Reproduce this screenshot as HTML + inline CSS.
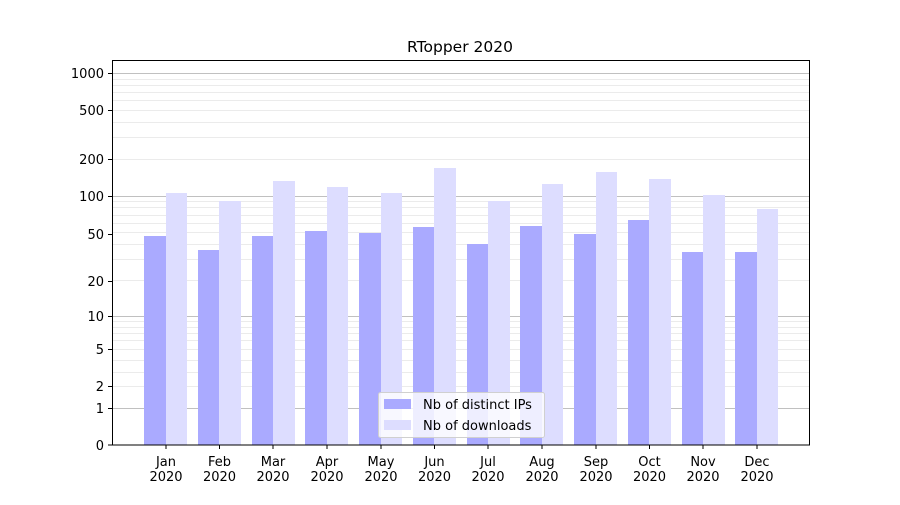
<!DOCTYPE html>
<html><head><meta charset="utf-8"><style>
body{margin:0;background:#fff}
text{font-family:"DejaVu Sans","Liberation Sans",sans-serif;font-size:13px;fill:#000}
</style></head><body>
<svg width="900" height="500" xmlns="http://www.w3.org/2000/svg">
<rect width="900" height="500" fill="#fff"/>
<g stroke="#ebebeb" stroke-width="1">
<line x1="112" x2="810" y1="386.5" y2="386.5"/><line x1="112" x2="810" y1="372.5" y2="372.5"/><line x1="112" x2="810" y1="360.5" y2="360.5"/><line x1="112" x2="810" y1="349.5" y2="349.5"/><line x1="112" x2="810" y1="340.5" y2="340.5"/><line x1="112" x2="810" y1="333.5" y2="333.5"/><line x1="112" x2="810" y1="327.5" y2="327.5"/><line x1="112" x2="810" y1="321.5" y2="321.5"/>
<line x1="112" x2="810" y1="280.5" y2="280.5"/><line x1="112" x2="810" y1="259.5" y2="259.5"/><line x1="112" x2="810" y1="244.5" y2="244.5"/><line x1="112" x2="810" y1="232.5" y2="232.5"/><line x1="112" x2="810" y1="223.5" y2="223.5"/><line x1="112" x2="810" y1="215.5" y2="215.5"/><line x1="112" x2="810" y1="207.5" y2="207.5"/><line x1="112" x2="810" y1="201.5" y2="201.5"/>
<line x1="112" x2="810" y1="159.5" y2="159.5"/><line x1="112" x2="810" y1="137.5" y2="137.5"/><line x1="112" x2="810" y1="122.5" y2="122.5"/><line x1="112" x2="810" y1="110.5" y2="110.5"/><line x1="112" x2="810" y1="100.5" y2="100.5"/><line x1="112" x2="810" y1="92.5" y2="92.5"/><line x1="112" x2="810" y1="85.5" y2="85.5"/><line x1="112" x2="810" y1="79.5" y2="79.5"/>
</g>
<g stroke="#c0c0c0" stroke-width="1">
<line x1="112" x2="810" y1="408.5" y2="408.5"/><line x1="112" x2="810" y1="316.5" y2="316.5"/><line x1="112" x2="810" y1="196.5" y2="196.5"/><line x1="112" x2="810" y1="73.5" y2="73.5"/>
</g>
<g fill="#aaaaff">
<rect x="144" y="236" width="22" height="209"/><rect x="198" y="250" width="21" height="195"/><rect x="252" y="236" width="21" height="209"/><rect x="305" y="231" width="22" height="214"/><rect x="359" y="233" width="22" height="212"/><rect x="413" y="227" width="21" height="218"/><rect x="467" y="244" width="21" height="201"/><rect x="520" y="226" width="22" height="219"/><rect x="574" y="234" width="22" height="211"/><rect x="628" y="220" width="21" height="225"/><rect x="682" y="252" width="21" height="193"/><rect x="735" y="252" width="22" height="193"/>
</g>
<g fill="#ddddff">
<rect x="166" y="193" width="21" height="252"/><rect x="219" y="201" width="22" height="244"/><rect x="273" y="181" width="22" height="264"/><rect x="327" y="187" width="21" height="258"/><rect x="381" y="193" width="21" height="252"/><rect x="434" y="168" width="22" height="277"/><rect x="488" y="201" width="22" height="244"/><rect x="542" y="184" width="21" height="261"/><rect x="596" y="172" width="21" height="273"/><rect x="649" y="179" width="22" height="266"/><rect x="703" y="195" width="22" height="250"/><rect x="757" y="209" width="21" height="236"/>
</g>
<rect x="112.5" y="60.5" width="697" height="384.5" fill="none" stroke="#000" stroke-width="1"/>
<g stroke="#000">
<line x1="108" x2="112" y1="445" y2="445"/><line x1="108" x2="112" y1="408.5" y2="408.5"/><line x1="108" x2="112" y1="386.5" y2="386.5"/><line x1="108" x2="112" y1="349.5" y2="349.5"/><line x1="108" x2="112" y1="316.5" y2="316.5"/><line x1="108" x2="112" y1="281.5" y2="281.5"/><line x1="108" x2="112" y1="234.5" y2="234.5"/><line x1="108" x2="112" y1="196.5" y2="196.5"/><line x1="108" x2="112" y1="159.5" y2="159.5"/><line x1="108" x2="112" y1="110.5" y2="110.5"/><line x1="108" x2="112" y1="73.5" y2="73.5"/>
</g>
<g text-anchor="end">
<text x="104" y="450">0</text><text x="104" y="413">1</text><text x="104" y="391">2</text><text x="104" y="354">5</text><text x="104" y="321">10</text><text x="104" y="286">20</text><text x="104" y="239">50</text><text x="104" y="201">100</text><text x="104" y="164">200</text><text x="104" y="115">500</text><text x="104" y="78">1000</text>
</g>
<g stroke="#000">
<line x1="166" x2="166" y1="445" y2="449"/><line x1="219.5" x2="219.5" y1="445" y2="449"/><line x1="273" x2="273" y1="445" y2="449"/><line x1="327" x2="327" y1="445" y2="449"/><line x1="381" x2="381" y1="445" y2="449"/><line x1="434.5" x2="434.5" y1="445" y2="449"/><line x1="488" x2="488" y1="445" y2="449"/><line x1="542" x2="542" y1="445" y2="449"/><line x1="596" x2="596" y1="445" y2="449"/><line x1="649.5" x2="649.5" y1="445" y2="449"/><line x1="703" x2="703" y1="445" y2="449"/><line x1="757" x2="757" y1="445" y2="449"/>
</g>
<g text-anchor="middle">
<text x="166" y="466">Jan</text><text x="166" y="481">2020</text>
<text x="219.5" y="466">Feb</text><text x="219.5" y="481">2020</text>
<text x="273" y="466">Mar</text><text x="273" y="481">2020</text>
<text x="327" y="466">Apr</text><text x="327" y="481">2020</text>
<text x="381" y="466">May</text><text x="381" y="481">2020</text>
<text x="434.5" y="466">Jun</text><text x="434.5" y="481">2020</text>
<text x="488" y="466">Jul</text><text x="488" y="481">2020</text>
<text x="542" y="466">Aug</text><text x="542" y="481">2020</text>
<text x="596" y="466">Sep</text><text x="596" y="481">2020</text>
<text x="649.5" y="466">Oct</text><text x="649.5" y="481">2020</text>
<text x="703" y="466">Nov</text><text x="703" y="481">2020</text>
<text x="757" y="466">Dec</text><text x="757" y="481">2020</text>
<text x="460" y="52" style="font-size:15.5px">RTopper 2020</text>
</g>
<rect x="378.5" y="392.5" width="166" height="45" rx="2" fill="#fff" fill-opacity="0.8" stroke="#d0d0d0"/>
<rect x="384" y="399" width="27" height="10" fill="#aaaaff"/>
<rect x="384" y="420" width="27" height="10" fill="#ddddff"/>
<text x="423" y="409">Nb of distinct IPs</text>
<text x="423" y="430">Nb of downloads</text>
</svg>
</body></html>
